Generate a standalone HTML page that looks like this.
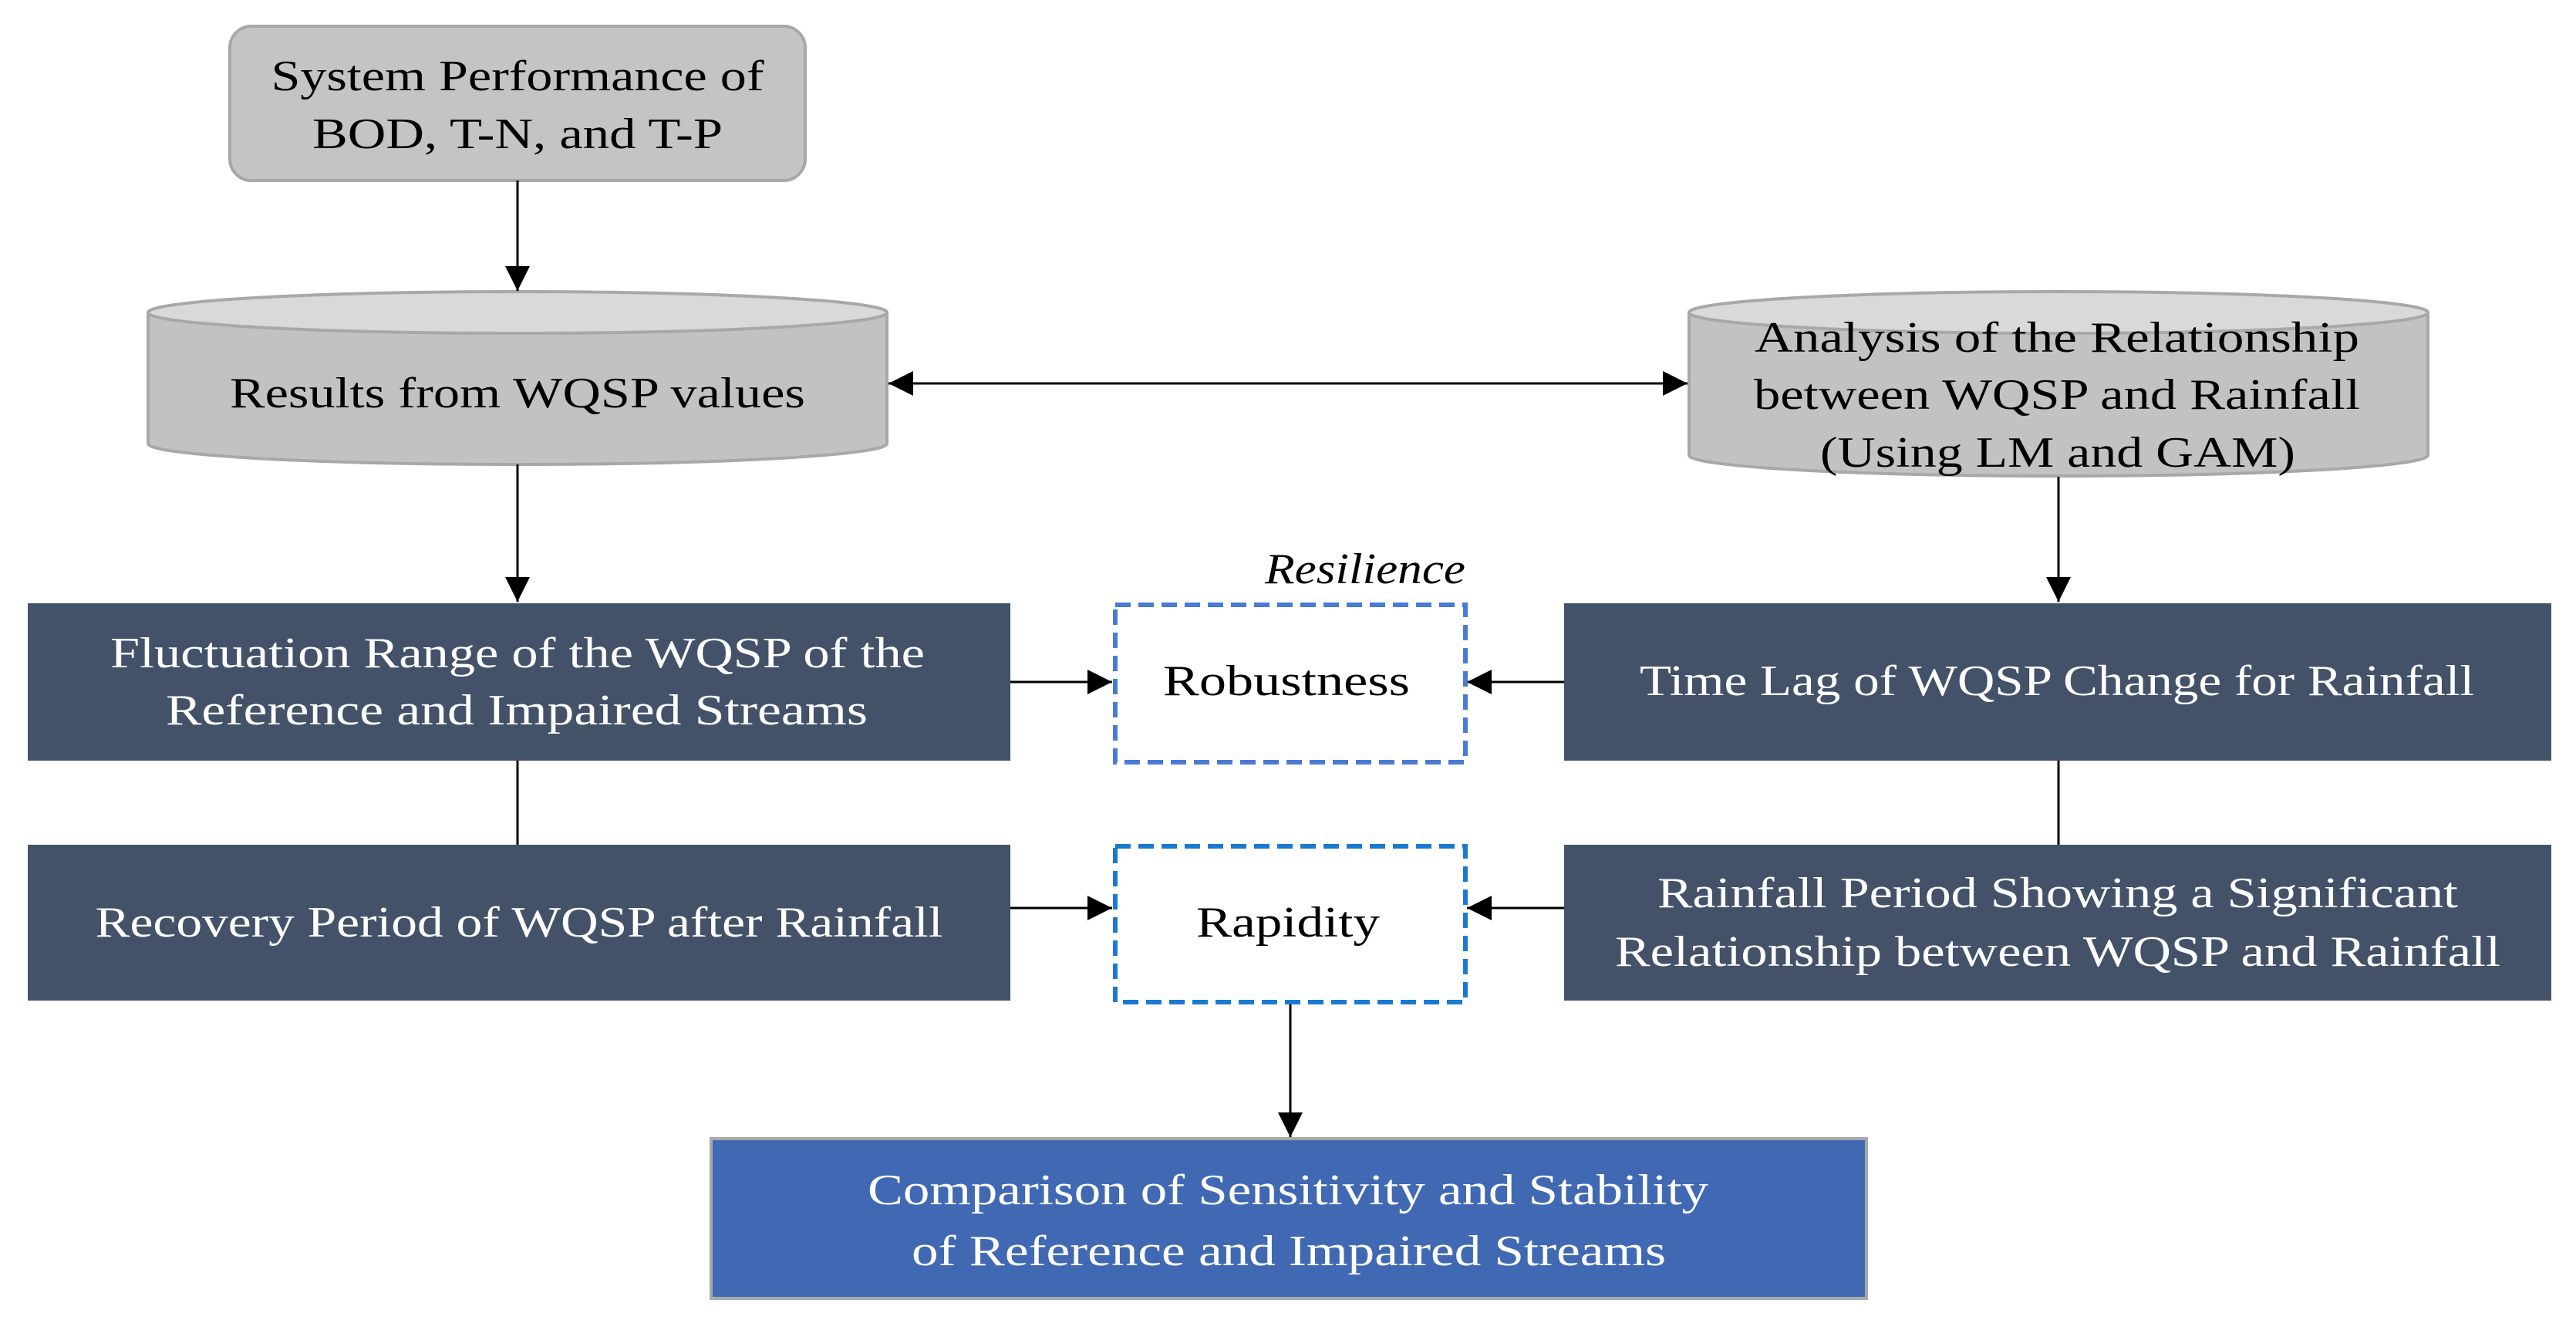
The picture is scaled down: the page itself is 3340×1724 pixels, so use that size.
<!DOCTYPE html>
<html><head><meta charset="utf-8"><style>html,body{margin:0;padding:0;background:#fff}svg{display:block}text{font-family:"Liberation Serif",serif;font-size:56px}</style></head><body>
<svg width="3340" height="1724" viewBox="0 0 3340 1724" xmlns="http://www.w3.org/2000/svg">
<defs><marker id="a" markerWidth="10" markerHeight="10" refX="9" refY="5" orient="auto" markerUnits="userSpaceOnUse" viewBox="0 0 10 10"><path d="M0,0 L10,5 L0,10 z" fill="#000"/></marker>
<marker id="m" viewBox="0 0 10 10" refX="10" refY="5" markerWidth="32" markerHeight="34" orient="auto-start-reverse" markerUnits="userSpaceOnUse"><path d="M0,0 L10,5 L0,10 z" fill="#000"/></marker></defs>
<!-- top box -->
<rect x="298" y="34" width="746" height="200" rx="28" fill="#c4c4c4" stroke="#a8a8a8" stroke-width="4"/>
<text x="671" y="117" text-anchor="middle" textLength="639" lengthAdjust="spacingAndGlyphs">System Performance of</text>
<text x="671" y="192" text-anchor="middle" textLength="532" lengthAdjust="spacingAndGlyphs">BOD, T-N, and T-P</text>
<!-- cylinders -->
<path d="M192,405 V575 A479,27 0 0 0 1150,575 V405" fill="#c2c2c2" stroke="#a8a8a8" stroke-width="4"/>
<ellipse cx="671" cy="405" rx="479" ry="27" fill="#d9d9d9" stroke="#a8a8a8" stroke-width="4"/>
<text x="671" y="528" text-anchor="middle" textLength="746" lengthAdjust="spacingAndGlyphs">Results from WQSP values</text>
<path d="M2190,405 V590 A479,27 0 0 0 3148,590 V405" fill="#c2c2c2" stroke="#a8a8a8" stroke-width="4"/>
<ellipse cx="2669" cy="405" rx="479" ry="27" fill="#d9d9d9" stroke="#a8a8a8" stroke-width="4"/>
<text x="2667" y="456" text-anchor="middle" textLength="784" lengthAdjust="spacingAndGlyphs">Analysis of the Relationship</text>
<text x="2667" y="530" text-anchor="middle" textLength="786" lengthAdjust="spacingAndGlyphs">between WQSP and Rainfall</text>
<text x="2668" y="605" text-anchor="middle" textLength="616" lengthAdjust="spacingAndGlyphs">(Using LM and GAM)</text>
<!-- connectors -->
<g stroke="#000" stroke-width="3" fill="none">
<line x1="671" y1="234" x2="671" y2="377" marker-end="url(#m)"/>
<line x1="1152" y1="497" x2="2188" y2="497" marker-start="url(#m)" marker-end="url(#m)"/>
<line x1="671" y1="602" x2="671" y2="780" marker-end="url(#m)"/>
<line x1="2669" y1="618" x2="2669" y2="780" marker-end="url(#m)"/>
<line x1="671" y1="986" x2="671" y2="1095"/>
<line x1="2669" y1="986" x2="2669" y2="1095"/>
<line x1="1310" y1="884" x2="1442" y2="884" marker-end="url(#m)"/>
<line x1="2028" y1="884" x2="1902" y2="884" marker-end="url(#m)"/>
<line x1="1310" y1="1177" x2="1442" y2="1177" marker-end="url(#m)"/>
<line x1="2028" y1="1177" x2="1902" y2="1177" marker-end="url(#m)"/>
<line x1="1673" y1="1299" x2="1673" y2="1474" marker-end="url(#m)"/>
</g>
<!-- dark boxes -->
<g fill="#435268">
<rect x="36" y="782" width="1274" height="204"/>
<rect x="2028" y="782" width="1280" height="204"/>
<rect x="36" y="1095" width="1274" height="202"/>
<rect x="2028" y="1095" width="1280" height="202"/>
</g>
<g fill="#fff">
<text x="671" y="865" text-anchor="middle" textLength="1056" lengthAdjust="spacingAndGlyphs">Fluctuation Range of the WQSP of the</text>
<text x="670" y="939" text-anchor="middle" textLength="910" lengthAdjust="spacingAndGlyphs">Reference and Impaired Streams</text>
<text x="2667" y="901" text-anchor="middle" textLength="1082" lengthAdjust="spacingAndGlyphs">Time Lag of WQSP Change for Rainfall</text>
<text x="673" y="1214" text-anchor="middle" textLength="1099" lengthAdjust="spacingAndGlyphs">Recovery Period of WQSP after Rainfall</text>
<text x="2668" y="1176" text-anchor="middle" textLength="1038" lengthAdjust="spacingAndGlyphs">Rainfall Period Showing a Significant</text>
<text x="2668" y="1252" text-anchor="middle" textLength="1148" lengthAdjust="spacingAndGlyphs">Relationship between WQSP and Rainfall</text>
</g>
<!-- dashed -->
<rect x="1446" y="784" width="454" height="204" fill="none" stroke="#4a7bd4" stroke-width="6" stroke-dasharray="20,10"/>
<rect x="1446" y="1097" width="454" height="202" fill="none" stroke="#1a7ad2" stroke-width="6" stroke-dasharray="20,10"/>
<text x="1668" y="901" text-anchor="middle" textLength="320" lengthAdjust="spacingAndGlyphs">Robustness</text>
<text x="1670" y="1214" text-anchor="middle" textLength="238" lengthAdjust="spacingAndGlyphs">Rapidity</text>
<text x="1770" y="756" text-anchor="middle" font-style="italic" textLength="260" lengthAdjust="spacingAndGlyphs">Resilience</text>
<!-- bottom -->
<rect x="922" y="1476" width="1498" height="207" fill="#4169b3" stroke="#a8a8a8" stroke-width="4"/>
<text x="1670" y="1561" text-anchor="middle" fill="#fff" textLength="1090" lengthAdjust="spacingAndGlyphs">Comparison of Sensitivity and Stability</text>
<text x="1671" y="1640" text-anchor="middle" fill="#fff" textLength="978" lengthAdjust="spacingAndGlyphs">of Reference and Impaired Streams</text>
</svg>
</body></html>
